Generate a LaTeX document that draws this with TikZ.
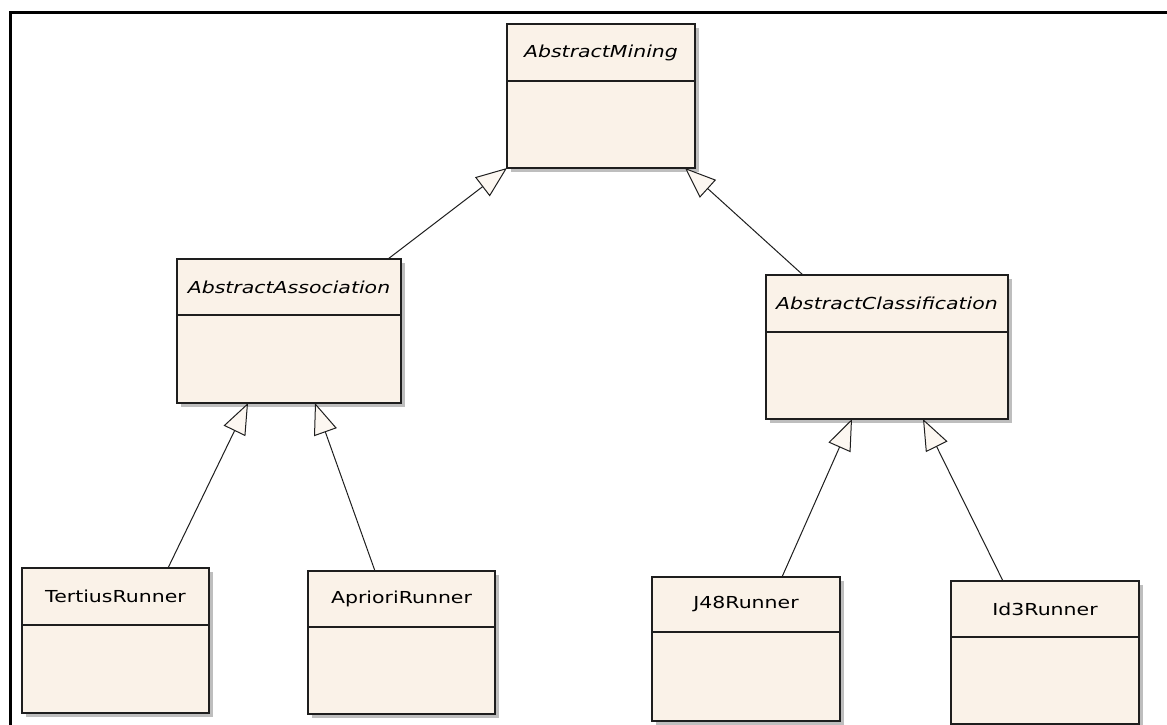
\documentclass[tikz,border=0pt]{standalone}
\usepackage{fontspec}
\newfontfamily\umlfont[FakeStretch=1.24]{DejaVu Sans}
\usetikzlibrary{arrows.meta,calc,shadows}
\definecolor{umlfill}{RGB}{250,242,232}
\definecolor{umlshadow}{RGB}{190,190,190}
\definecolor{umlline}{RGB}{30,30,30}
\tikzset{
  classbox/.style={draw=umlline, line width=1.7pt, fill=umlfill, inner sep=0pt,
    outer sep=0pt, anchor=north west,
    drop shadow={shadow xshift=4pt, shadow yshift=-4pt, fill=umlshadow, draw=none, opacity=1}},
  divider/.style={draw=umlline, line width=1.7pt},
  classname/.style={font=\umlfont\fontsize{16.5}{19}\selectfont, text=black, inner sep=0pt},
  abstractname/.style={classname, font=\umlfont\itshape\fontsize{16.5}{19}\selectfont},
  generalization/.style={draw=umlline, line width=1pt,
    -{Triangle[length=31pt,width=24pt,fill=umlfill!60!white,line width=1pt]}},
  frameline/.style={draw=black, line width=3pt}
}
% name, x, y, width, height, header height, label style, label
\newcommand\umlclass[8]{%
  \node[classbox, minimum width=#4pt, minimum height=#5pt] (#1) at (#2,#3) {};
  \draw[divider] ([yshift=-#6pt]#1.north west) -- ([yshift=-#6pt]#1.north east);
  \node[#7] (#1-name) at ([yshift=-#6pt/2]#1.north) {#8};
}
\begin{document}
\begin{tikzpicture}[x=1pt,y=-1pt]
\useasboundingbox (0,0) rectangle (1167,725);
\fill[white] (0,0) rectangle (1167,725);
% frame
\coordinate (fbl) at (10,725);
\coordinate (ftl) at (10,13);
\coordinate (ftr) at (1167,13);
\draw[frameline] (fbl) -- (ftl) -- (ftr);

\umlclass{am}{507}{24}{188}{144}{57}{abstractname}{AbstractMining}
\umlclass{as}{177}{259}{224}{144}{56}{abstractname}{AbstractAssociation}
\umlclass{ac}{766}{275}{242}{144}{57}{abstractname}{AbstractClassification}
\umlclass{tr}{22}{568}{187}{145}{57}{classname}{TertiusRunner}
\umlclass{ar}{308}{571}{187}{143}{56}{classname}{AprioriRunner}
\umlclass{j48}{652}{577}{188}{144}{55}{classname}{J48Runner}
\umlclass{id3}{951}{581}{188}{143}{56}{classname}{Id3Runner}

\draw[generalization] ([xshift=-13pt]as.north east) -- (am.south west);
\draw[generalization] ([xshift=37pt]ac.north west) -- ([xshift=-10pt]am.south east);
\draw[generalization] ([xshift=146pt]tr.north west) -- ([xshift=71pt]as.south west);
\draw[generalization] ([xshift=67pt]ar.north west) -- ([xshift=138pt]as.south west);
\draw[generalization] ([xshift=130pt]j48.north west) -- ([xshift=86pt]ac.south west);
\draw[generalization] ([xshift=52pt]id3.north west) -- ([xshift=157pt]ac.south west);
\end{tikzpicture}
\end{document}
